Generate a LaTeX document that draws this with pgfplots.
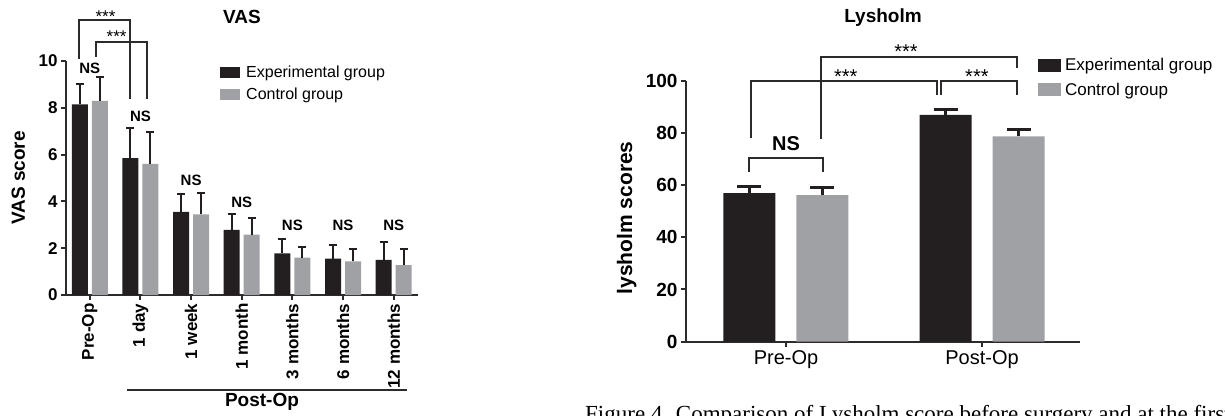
\documentclass[border=0pt]{standalone}
\usepackage{fontspec}
\setmainfont{Liberation Sans}
\newfontfamily\capfont{Liberation Serif}
\usepackage{pgfplots}
\pgfplotsset{compat=1.18}
\definecolor{barblack}{RGB}{35,31,32}
\definecolor{bargray}{RGB}{160,161,164}
\definecolor{axisgray}{RGB}{45,42,43}
\newcommand{\fs}[1]{\fontsize{#1}{#1}\selectfont}

\pgfplotsset{
  gpstyle/.style={
    scale only axis,
    anchor=south west,
    axis x line*=bottom, axis y line*=left,
    axis line style={line width=2pt, axisgray, -},
    tick align=outside, major tick length=5pt,
    tick style={line width=2pt, axisgray},
    /pgf/number format/assume math mode=true,
    clip=false,
    legend style={draw=none, fill=none, inner sep=0pt, anchor=north west},
    legend cell align=left,
  },
}

\begin{document}
\begin{tikzpicture}[x=1pt,y=1pt]

% ---- VAS ----
\begin{axis}[gpstyle,
  width=352pt, height=234pt, at={(66pt,120pt)},
  xmin=-0.47, xmax=6.48, ymin=0, ymax=10,
  ytick={0,2,...,10},
  xtick={0,...,6},
  xticklabels={Pre-Op,1 day,1 week,1 month,3 months,6 months,12 months},
  yticklabel style={font=\bfseries\fs{17}},
  xticklabel style={font=\bfseries\fs{17}, rotate=90, anchor=east},
  ybar=4pt, bar width=16pt,
  title=VAS,
  title style={font=\bfseries\fs{19}, at={(axis description cs:0.5,1.163)}, anchor=center},
  ylabel=VAS score,
  ylabel style={font=\bfseries\fs{19}, at={(axis description cs:-0.1355,0.5)}, anchor=center},
  legend style={at={(axis description cs:0.4375,0.988)}, font=\fs{16}, row sep=5pt},
  legend image code/.code={\fill[#1] (0pt,-5.5pt) rectangle (20pt,5.5pt);},
]
\addplot[fill=barblack, draw=none,
  error bars/.cd, y dir=plus, y explicit,
  error bar style={line width=2pt, barblack},
  error mark options={rotate=90, line width=2pt, mark size=4pt, barblack}]
  coordinates {
  (0,8.15) +- (0,0.85)
  (1,5.85) +- (0,1.3)
  (2,3.55) +- (0,0.77)
  (3,2.78) +- (0,0.67)
  (4,1.78) +- (0,0.63)
  (5,1.55) +- (0,0.58)
  (6,1.50) +- (0,0.75)
  };
\addlegendentry{\hspace{4pt}Experimental group}
\addplot[fill=bargray, draw=none,
  error bars/.cd, y dir=plus, y explicit,
  error bar style={line width=2pt, barblack},
  error mark options={rotate=90, line width=2pt, mark size=4pt, barblack}]
  coordinates {
  (0,8.30) +- (0,1.0)
  (1,5.60) +- (0,1.35)
  (2,3.45) +- (0,0.9)
  (3,2.58) +- (0,0.7)
  (4,1.60) +- (0,0.47)
  (5,1.44) +- (0,0.51)
  (6,1.28) +- (0,0.7)
  };
\addlegendentry{\hspace{4pt}Control group}

% significance marks
\draw[line width=2pt, axisgray] (axis cs:-0.21,10.1) |- (axis cs:0.8,11.75) -- (axis cs:0.8,8.36);
\node[font=\fs{17}] at (axis cs:0.31,11.91) {***};
\draw[line width=2pt, axisgray] (axis cs:0.13,10.18) |- (axis cs:1.12,10.83) -- (axis cs:1.12,8.36);
\node[font=\fs{17}] at (axis cs:0.53,11.05) {***};
\node[font=\bfseries\fs{15}] at (axis cs:0,9.68) {NS};
\node[font=\bfseries\fs{15}] at (axis cs:1,7.65) {NS};
\node[font=\bfseries\fs{15}] at (axis cs:2,4.91) {NS};
\node[font=\bfseries\fs{15}] at (axis cs:3,3.97) {NS};
\node[font=\bfseries\fs{15}] at (axis cs:4,2.98) {NS};
\node[font=\bfseries\fs{15}] at (axis cs:5,2.98) {NS};
\node[font=\bfseries\fs{15}] at (axis cs:6,2.98) {NS};

% Post-Op group
\draw[line width=2pt, axisgray] (axis cs:0.725,-4.06) -- (axis cs:6.26,-4.06);
\node[font=\bfseries\fs{19}] at (axis cs:3.4,-4.56) {Post-Op};
\end{axis}

% ---- Lysholm ----
\begin{axis}[gpstyle,
  width=394pt, height=261pt, at={(686pt,73.3pt)},
  xmin=-0.51, xmax=1.5, ymin=0, ymax=100,
  ytick={0,20,...,100},
  xtick={0,1},
  xticklabels={Pre-Op,Post-Op},
  yticklabel style={font=\bfseries\fs{19}},
  xticklabel style={font=\fs{20}},
  ybar=21pt, bar width=52pt,
  title=Lysholm,
  title style={font=\bfseries\fs{19}, at={(axis description cs:0.5,1.217)}, anchor=center},
  ylabel=lysholm scores,
  ylabel style={font=\bfseries\fs{21}, at={(axis description cs:-0.1505,0.4746)}, anchor=center},
  legend style={at={(axis description cs:0.893,1.095)}, font=\fs{17}, row sep=7pt},
  legend image code/.code={\fill[#1] (0pt,-6.5pt) rectangle (23pt,6.5pt);},
]
\addplot[fill=barblack, draw=none,
  error bars/.cd, y dir=plus, y explicit,
  error bar style={line width=2.5pt, barblack},
  error mark options={rotate=90, line width=2.5pt, mark size=12pt, barblack}]
  coordinates {
  (0,56.9) +- (0,2.6)
  (1,86.9) +- (0,2.0)
  };
\addlegendentry{\hspace{2pt}Experimental group}
\addplot[fill=bargray, draw=none,
  error bars/.cd, y dir=plus, y explicit,
  error bar style={line width=2.5pt, barblack},
  error mark options={rotate=90, line width=2.5pt, mark size=12pt, barblack}]
  coordinates {
  (0,56.2) +- (0,2.8)
  (1,78.7) +- (0,2.6)
  };
\addlegendentry{\hspace{2pt}Control group}

\draw[line width=2pt, axisgray] (axis cs:0.177,77.7) |- (axis cs:1.177,109.2) -- (axis cs:1.177,104.9);
\node[font=\fs{20}] at (axis cs:0.612,111.2) {***};
\draw[line width=2pt, axisgray] (axis cs:-0.18,78.1) |- (axis cs:0.772,99.7) -- (axis cs:0.772,94.7);
\node[font=\fs{20}] at (axis cs:0.305,101.4) {***};
\draw[line width=2pt, axisgray] (axis cs:0.789,94.7) |- (axis cs:1.177,99.7) -- (axis cs:1.177,94.7);
\node[font=\fs{20}] at (axis cs:0.974,101.4) {***};
\draw[line width=2pt, axisgray] (axis cs:-0.19,65) |- (axis cs:0.19,70.5) -- (axis cs:0.19,65);
\node[font=\bfseries\fs{20}] at (axis cs:0,75.8) {NS};
\end{axis}

% caption line, cut by the page edge as in the source
\node[anchor=base west, inner sep=0pt, font=\capfont\fs{23}] at (585,-6)
  {Figure 4. Comparison of Lysholm score before surgery and at the first};

\pgfresetboundingbox
\useasboundingbox (0,0) rectangle (1225,415);
\end{tikzpicture}
\end{document}
